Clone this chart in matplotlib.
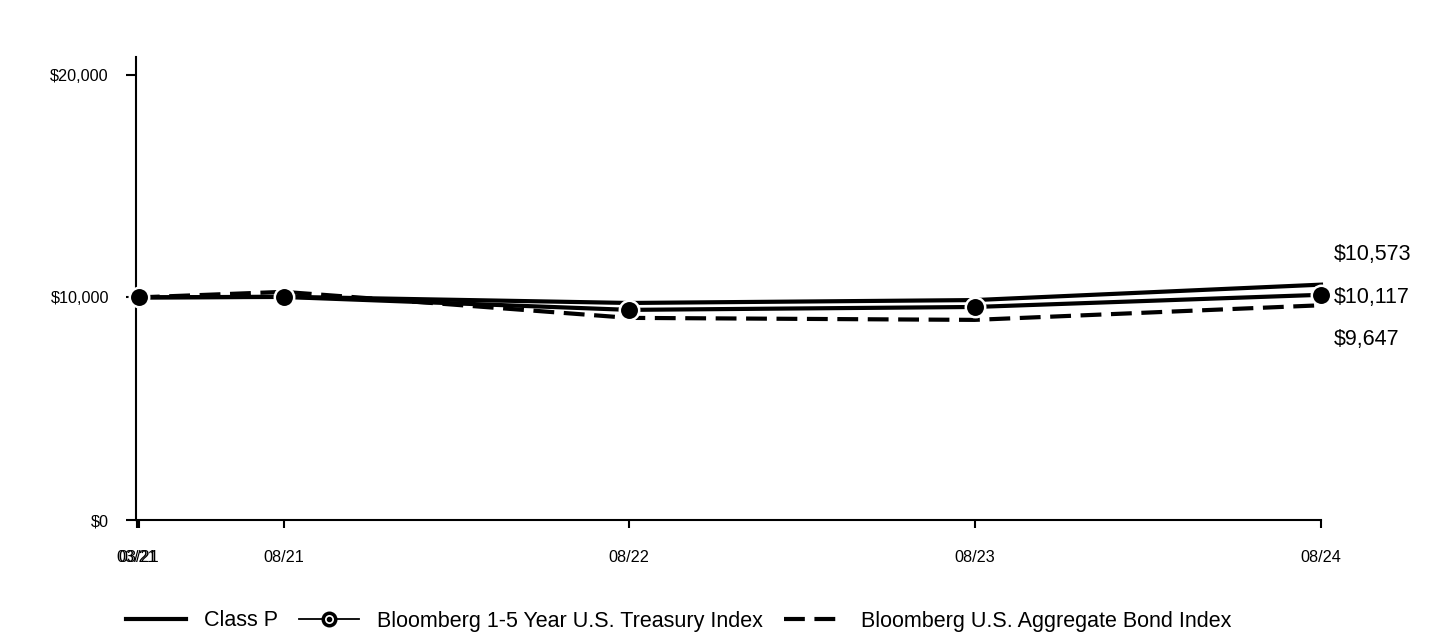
import matplotlib
matplotlib.use("Agg")
import matplotlib.pyplot as plt
import matplotlib.dates as mdates
from matplotlib.lines import Line2D
from matplotlib.legend_handler import HandlerTuple
import datetime as dt

plt.rcParams['font.family'] = ['Liberation Sans', 'DejaVu Sans']

# ---- data ----
dates = ["2021-03-31", "2021-08-31", "2022-08-31", "2023-08-31", "2024-08-31"]
tick_dates = ["2021-03-29", "2021-03-31", "2021-08-31", "2022-08-31", "2023-08-31", "2024-08-31"]
tick_labels = ["03/21", "03/21", "08/21", "08/22", "08/23", "08/24"]
class_p = [10000, 10030, 9750, 9880, 10573]
treasury = [10000, 10020, 9440, 9570, 10117]
aggregate = [10000, 10250, 9080, 8990, 9647]
end_labels = ["$10,573", "$10,117", "$9,647"]
series_names = ["Class P", "Bloomberg 1-5 Year U.S. Treasury Index", "Bloomberg U.S. Aggregate Bond Index"]
yticks = [0, 10000, 20000]
ytick_labels = ["$0", "$10,000", "$20,000"]

x = [dt.datetime.strptime(d, "%Y-%m-%d") for d in dates]
xt = [dt.datetime.strptime(d, "%Y-%m-%d") for d in tick_dates]

fig = plt.figure(figsize=(14.4, 6.36), dpi=100)
ax = fig.add_axes([136/1440, 1-520/636, (1321-136)/1440, (520-57)/636])

lw = 3.0
dash = (5.0, 2.3)
ax.plot(x, aggregate, color='black', lw=lw, dashes=dash, zorder=2, clip_on=False)
ax.plot(x, treasury, color='black', lw=lw, zorder=3, clip_on=False)
ax.plot(x, class_p, color='black', lw=lw, zorder=3, clip_on=False)
ax.plot(x, treasury, linestyle='none', marker='o', markersize=14,
        markerfacecolor='black', markeredgecolor='white', markeredgewidth=1.8,
        zorder=4, clip_on=False)

ax.set_xlim(xt[0] - dt.timedelta(days=1), x[-1])
ax.set_ylim(0, 20800)
ax.set_yticks(yticks)
ax.set_yticklabels(ytick_labels)
ax.set_xticks([mdates.date2num(d) for d in xt])
ax.set_xticklabels(tick_labels)

for s in ['top', 'right']:
    ax.spines[s].set_visible(False)
for s in ['left', 'bottom']:
    ax.spines[s].set_linewidth(1.5)
ax.tick_params(axis='y', length=7, width=1.5, pad=12.5, labelsize=11.7)
ax.tick_params(axis='x', length=6, width=1.5, pad=15.5, labelsize=11.7)

offsets = [21.5, -2, -25]
vals = [class_p[-1], treasury[-1], aggregate[-1]]
for lab, v, off in zip(end_labels, vals, offsets):
    ax.annotate(lab, xy=(x[-1], v), xytext=(9, off), textcoords='offset points',
                ha='left', va='center', fontsize=15.5, annotation_clip=False)

h1 = Line2D([], [], color='black', lw=3)
h2a = Line2D([], [], color='black', lw=1.3, marker='o', markersize=9,
             markerfacecolor='white', markeredgecolor='black', markeredgewidth=2.5)
h2b = Line2D([], [], color='black', lw=0, marker='o', markersize=3,
             markerfacecolor='black', markeredgecolor='black')
h3 = Line2D([], [], color='black', lw=3, dashes=dash)
fig.legend([h1, (h2a, h2b), h3], series_names, loc='center left',
           bbox_to_anchor=(126/1440, 1-621/636), ncol=3, frameon=False,
           fontsize=15.5, handlelength=2.8, handletextpad=0.8, columnspacing=1.0,
           borderpad=0, borderaxespad=0,
           handler_map={tuple: HandlerTuple(ndivide=1)})

fig.savefig("out.png", dpi=100)
